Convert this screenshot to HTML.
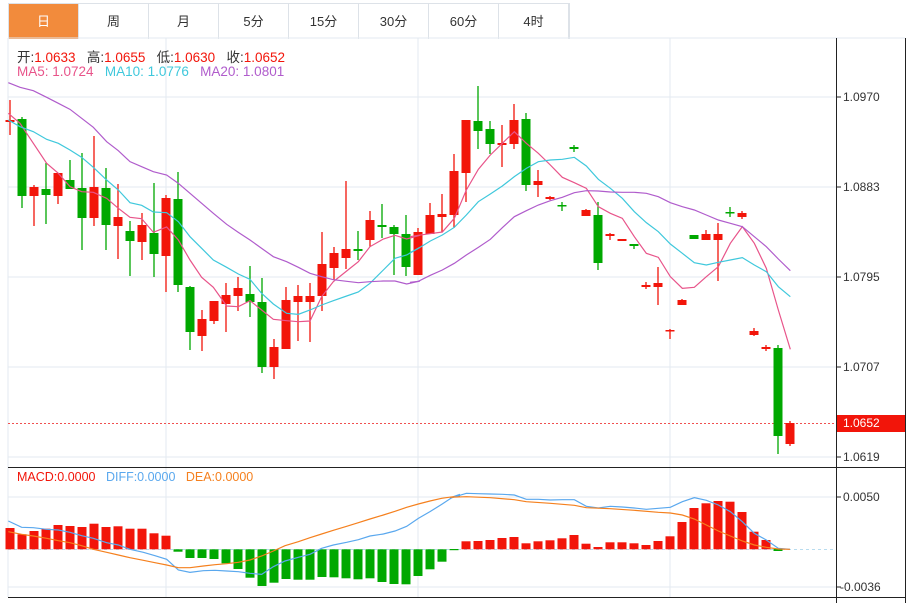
<!DOCTYPE html>
<html><head><meta charset="utf-8"><style>
*{margin:0;padding:0}body{width:912px;height:603px;background:#fff;overflow:hidden;font-family:"Liberation Sans","Noto Sans CJK SC",sans-serif;position:relative}
.tabs{position:absolute;left:8px;top:3px;height:35px;display:flex;border:1px solid #dde2e8;border-bottom:none}
.tab{width:69px;height:35px;line-height:35px;text-align:center;font-size:13px;color:#333;border-right:1px solid #dde2e8}
.tab.on{background:#f28b3c;color:#fff}
.lg{position:absolute;font-size:13.5px;white-space:pre}
.ax{position:absolute;left:843px;font-size:12px;color:#333}
</style></head><body>
<div class="tabs"><div class="tab on">日</div><div class="tab">周</div><div class="tab">月</div><div class="tab">5分</div><div class="tab">15分</div><div class="tab">30分</div><div class="tab">60分</div><div class="tab">4时</div></div>
<svg width="912" height="603" style="position:absolute;left:0;top:0">
<g stroke="#e3eaf1" stroke-width="1">
<line x1="8" y1="38" x2="905" y2="38"/>
<line x1="8" y1="97" x2="836" y2="97"/><line x1="8" y1="187" x2="836" y2="187"/><line x1="8" y1="277" x2="836" y2="277"/><line x1="8" y1="367" x2="836" y2="367"/><line x1="8" y1="457" x2="836" y2="457"/>
<line x1="8" y1="497" x2="836" y2="497"/><line x1="8" y1="587" x2="836" y2="587"/>
<line x1="166" y1="38" x2="166" y2="597"/><line x1="418" y1="38" x2="418" y2="597"/><line x1="670" y1="38" x2="670" y2="597"/>
<line x1="8" y1="38" x2="8" y2="597"/>
</g>
<g stroke="#222" stroke-width="1">
<line x1="8" y1="467.5" x2="905" y2="467.5"/><line x1="8" y1="597.5" x2="905" y2="597.5"/>
<line x1="836.5" y1="38" x2="836.5" y2="603"/><line x1="905.5" y1="38" x2="905.5" y2="603"/>
<line x1="836" y1="97" x2="841" y2="97"/><line x1="836" y1="187" x2="841" y2="187"/><line x1="836" y1="277" x2="841" y2="277"/><line x1="836" y1="367" x2="841" y2="367"/><line x1="836" y1="457" x2="841" y2="457"/><line x1="836" y1="497" x2="841" y2="497"/><line x1="836" y1="587" x2="841" y2="587"/>
</g>
<line x1="8" y1="423.5" x2="836" y2="423.5" stroke="#f05050" stroke-dasharray="2,2"/>
<line x1="8" y1="549.5" x2="836" y2="549.5" stroke="#b8dcef" stroke-dasharray="3,3"/>
<path stroke="#f2150a" stroke-width="1.3" fill="none" d="M10 100V135M34 185V226M58 173V204M94 136V226M118 184V259M142 213V260M166 195V292M202 310V351M214 301V324M226 283V332M238 277V311M274 339V379M286 287V349M298 285V341M310 283V342M322 232V311M334 247V280M346 181V269M370 211V247M418 228V275M430 203V234M442 194V232M454 154V228M466 120V202M502 125V167M514 104V149M538 170V197M550 196V200M586 209V216M610 233V240M622 239V241M646 282V289M658 267V305M670 329V339M682 299V305M706 230V240M718 223V281M742 211V219M754 328V336M766 345V351M790 421V446"/>
<g fill="#f2150a">
<rect x="5.5" y="120" width="9" height="2"/><rect x="29.5" y="187" width="9" height="9"/><rect x="53.5" y="173" width="9" height="23"/><rect x="89.5" y="187" width="9" height="31"/><rect x="113.5" y="217" width="9" height="9"/><rect x="137.5" y="225" width="9" height="17"/><rect x="161.5" y="198" width="9" height="58"/><rect x="197.5" y="319" width="9" height="17"/><rect x="209.5" y="301" width="9" height="20"/><rect x="221.5" y="295" width="9" height="9"/><rect x="233.5" y="288" width="9" height="8"/><rect x="269.5" y="347" width="9" height="20"/><rect x="281.5" y="300" width="9" height="49"/><rect x="293.5" y="296" width="9" height="6"/><rect x="305.5" y="296" width="9" height="6"/><rect x="317.5" y="264" width="9" height="32"/><rect x="329.5" y="253" width="9" height="15"/><rect x="341.5" y="249" width="9" height="9"/><rect x="365.5" y="220" width="9" height="20"/><rect x="413.5" y="232" width="9" height="43"/><rect x="425.5" y="215" width="9" height="19"/><rect x="437.5" y="214" width="9" height="3"/><rect x="449.5" y="171" width="9" height="44"/><rect x="461.5" y="120" width="9" height="53"/><rect x="497.5" y="143" width="9" height="2"/><rect x="509.5" y="120" width="9" height="24"/><rect x="533.5" y="181" width="9" height="4"/><rect x="545.5" y="197" width="9" height="2"/><rect x="581.5" y="210" width="9" height="6"/><rect x="605.5" y="234" width="9" height="2"/><rect x="617.5" y="239" width="9" height="2"/><rect x="641.5" y="285" width="9" height="2"/><rect x="653.5" y="283" width="9" height="4"/><rect x="665.5" y="330" width="9" height="1.5"/><rect x="677.5" y="300" width="9" height="5"/><rect x="701.5" y="234" width="9" height="6"/><rect x="713.5" y="234" width="9" height="6"/><rect x="737.5" y="213" width="9" height="4"/><rect x="749.5" y="331" width="9" height="4"/><rect x="761.5" y="347" width="9" height="2"/><rect x="785.5" y="423" width="9" height="21"/>
</g>
<path stroke="#00a800" stroke-width="1.3" fill="none" d="M22 117V208M46 163V224M70 160V189M82 153V250M106 168V250M130 221V276M154 183V277M178 172V292M190 286V350M250 266V317M262 278V373M358 231V260M382 204V238M394 225V275M406 215V276M478 86V149M490 121V154M526 113V191M562 202V211M574 145V152M598 202V270M634 244V249M694 235V239M730 207V217M778 345V454"/>
<g fill="#00a800">
<rect x="17.5" y="119" width="9" height="77"/><rect x="41.5" y="189" width="9" height="6"/><rect x="65.5" y="180" width="9" height="9"/><rect x="77.5" y="188" width="9" height="30"/><rect x="101.5" y="188" width="9" height="37"/><rect x="125.5" y="231" width="9" height="10"/><rect x="149.5" y="233" width="9" height="21"/><rect x="173.5" y="199" width="9" height="86"/><rect x="185.5" y="287" width="9" height="45"/><rect x="245.5" y="294" width="9" height="8"/><rect x="257.5" y="302" width="9" height="65"/><rect x="353.5" y="249" width="9" height="2"/><rect x="377.5" y="225" width="9" height="2"/><rect x="389.5" y="227" width="9" height="7"/><rect x="401.5" y="234" width="9" height="33"/><rect x="473.5" y="121" width="9" height="10"/><rect x="485.5" y="129" width="9" height="15"/><rect x="521.5" y="119" width="9" height="66"/><rect x="557.5" y="205" width="9" height="1.5"/><rect x="569.5" y="147" width="9" height="2"/><rect x="593.5" y="215" width="9" height="48"/><rect x="629.5" y="244" width="9" height="2"/><rect x="689.5" y="235" width="9" height="4"/><rect x="725.5" y="212" width="9" height="1.5"/><rect x="773.5" y="348" width="9" height="88"/>
</g>
<g fill="none" stroke-width="1.2">
<g transform="translate(0,80) scale(0.33333)">
<polyline vector-effect="non-scaling-stroke" stroke="#e8548a" points="25,100 60,130 100,190 140,250 175,280 210,320 245,335 280,337 320,355 355,385 390,412 425,416 460,457 500,441 535,480 570,540 605,592 640,622 680,678 715,680 750,662 785,690 820,718 860,722 895,725 930,723 965,650 1000,605 1040,573 1075,545 1110,500 1150,477 1185,466 1220,477 1260,466"/>
<polyline vector-effect="non-scaling-stroke" stroke="#3fc8dc" points="25,120 60,140 100,155 140,178 175,190 210,210 245,232 280,262 320,300 355,330 390,368 425,376 460,396 500,398 535,425 570,470 605,505 640,540 680,562 715,582 750,598 785,640 820,672 860,700 895,703 930,690 965,675 1000,662 1040,648 1075,636 1110,610 1150,570 1185,535 1220,525 1260,502"/>
<polyline vector-effect="non-scaling-stroke" stroke="#b05ccc" points="25,8 60,22 100,32 140,52 175,70 210,88 245,115 280,142 320,185 355,212 390,245 425,260 460,275 500,285 535,310 570,340 605,370 640,400 680,433 715,457 750,480 785,505 820,530 860,545 895,562 930,580 965,590 1000,599 1040,604 1075,608 1110,605 1150,603 1185,603 1220,612 1260,603"/>
</g>
<g transform="translate(410,80) scale(0.33333)">
<polyline vector-effect="non-scaling-stroke" stroke="#e8548a" points="0,470 25,466 60,461 97,456 133,415 169,330 205,268 241,225 277,190 313,155 349,190 385,220 421,255 457,292 493,308 529,325 565,380 601,400 637,415 673,470 709,520 745,532 781,590 817,625 853,622 889,590 925,560 961,490 997,440 1033,490 1069,565 1105,690 1141,808"/>
<polyline vector-effect="non-scaling-stroke" stroke="#3fc8dc" points="0,518 25,505 61,483 97,465 133,442 169,405 205,365 241,342 277,318 313,290 349,265 385,245 421,240 457,238 493,232 529,258 565,298 601,325 637,355 673,395 709,428 745,455 781,492 817,520 853,548 889,555 925,547 961,540 997,533 1033,555 1069,575 1105,620 1141,650"/>
<polyline vector-effect="non-scaling-stroke" stroke="#b05ccc" points="0,607 25,604 61,586 97,570 133,550 169,525 205,502 241,478 277,443 313,410 349,392 385,375 421,362 457,352 493,338 529,332 565,333 601,336 637,337 673,337 709,340 745,350 781,368 817,380 853,390 889,405 925,420 961,430 997,440 1033,470 1069,500 1105,537 1141,572"/>
</g>
</g>
<g fill="#f2150a">
<rect x="5.5" y="528" width="9" height="21.3"/><rect x="17.5" y="534.3" width="9" height="15"/><rect x="29.5" y="531" width="9" height="18.3"/><rect x="41.5" y="528.7" width="9" height="20.6"/><rect x="53.5" y="525" width="9" height="24.3"/><rect x="65.5" y="526" width="9" height="23.3"/><rect x="77.5" y="527" width="9" height="22.3"/><rect x="89.5" y="523.7" width="9" height="25.6"/><rect x="101.5" y="527" width="9" height="22.3"/><rect x="113.5" y="526.3" width="9" height="23"/><rect x="125.5" y="528.7" width="9" height="20.6"/><rect x="137.5" y="528.7" width="9" height="20.6"/><rect x="149.5" y="533.3" width="9" height="16"/><rect x="161.5" y="535.7" width="9" height="13.6"/>
<rect x="461.5" y="541.3" width="9" height="8"/><rect x="473.5" y="541" width="9" height="8.3"/><rect x="485.5" y="540" width="9" height="9.3"/><rect x="497.5" y="538" width="9" height="11.3"/><rect x="509.5" y="537" width="9" height="12.3"/><rect x="521.5" y="543.3" width="9" height="6"/><rect x="533.5" y="541.3" width="9" height="8"/><rect x="545.5" y="540.3" width="9" height="9"/><rect x="557.5" y="538.3" width="9" height="11"/><rect x="569.5" y="535" width="9" height="14.3"/><rect x="581.5" y="543.7" width="9" height="5.6"/><rect x="593.5" y="547" width="9" height="2.3"/><rect x="605.5" y="542.3" width="9" height="7"/><rect x="617.5" y="542.3" width="9" height="7"/><rect x="629.5" y="543.3" width="9" height="6"/><rect x="641.5" y="545" width="9" height="4.3"/><rect x="653.5" y="541" width="9" height="8.3"/><rect x="665.5" y="536.3" width="9" height="13"/><rect x="677.5" y="522" width="9" height="27.3"/><rect x="689.5" y="508" width="9" height="41.3"/><rect x="701.5" y="503.3" width="9" height="46"/><rect x="713.5" y="501" width="9" height="48.3"/><rect x="725.5" y="501.7" width="9" height="47.6"/><rect x="737.5" y="512" width="9" height="37.3"/><rect x="749.5" y="531.7" width="9" height="17.6"/><rect x="761.5" y="540" width="9" height="9.3"/>
</g>
<g fill="#00a800">
<rect x="173.5" y="549.3" width="9" height="2.4"/><rect x="185.5" y="549.3" width="9" height="8.7"/><rect x="197.5" y="549.3" width="9" height="8.7"/><rect x="209.5" y="549.3" width="9" height="9.7"/><rect x="221.5" y="549.3" width="9" height="14"/><rect x="233.5" y="549.3" width="9" height="19.7"/><rect x="245.5" y="549.3" width="9" height="28.4"/><rect x="257.5" y="549.3" width="9" height="36.7"/><rect x="269.5" y="549.3" width="9" height="33.4"/><rect x="281.5" y="549.3" width="9" height="29.7"/><rect x="293.5" y="549.3" width="9" height="30.4"/><rect x="305.5" y="549.3" width="9" height="30.4"/><rect x="317.5" y="549.3" width="9" height="27.7"/><rect x="329.5" y="549.3" width="9" height="28"/><rect x="341.5" y="549.3" width="9" height="29"/><rect x="353.5" y="549.3" width="9" height="30"/><rect x="365.5" y="549.3" width="9" height="29"/><rect x="377.5" y="549.3" width="9" height="32.7"/><rect x="389.5" y="549.3" width="9" height="34.7"/><rect x="401.5" y="549.3" width="9" height="35"/><rect x="413.5" y="549.3" width="9" height="26.7"/><rect x="425.5" y="549.3" width="9" height="20"/><rect x="437.5" y="549.3" width="9" height="12.4"/><rect x="449.5" y="549" width="9" height="1.2"/><rect x="773.5" y="549" width="9" height="2"/>
</g>
<g fill="none" stroke-width="1.2">
<g transform="translate(0,455) scale(0.33333)">
<polyline vector-effect="non-scaling-stroke" stroke="#5aa8ee" points="25,198 65,217 100,218 140,223 175,225 210,232 245,242 280,250 320,263 355,270 390,283 430,292 465,302 500,313 535,345 570,352 610,347 645,346 680,348 715,350 750,355 785,358 820,335 855,318 895,307 930,298 965,280 1000,270 1040,262 1075,254 1110,243 1150,237 1185,228 1220,214 1255,190 1290,170 1325,148 1360,125 1380,118"/>
<polyline vector-effect="non-scaling-stroke" stroke="#f5801e" points="25,230 65,238 100,243 140,250 175,257 210,263 245,272 280,283 320,292 355,300 390,308 430,316 465,323 500,330 535,338 570,338 610,333 645,329 680,326 715,322 750,315 785,303 820,288 855,272 895,260 930,248 965,237 1000,226 1040,214 1075,203 1110,192 1150,180 1185,169 1220,157 1255,147 1290,138 1325,130 1360,125 1380,124"/>
</g>
<g transform="translate(450,455) scale(0.33333)">
<polyline vector-effect="non-scaling-stroke" stroke="#5aa8ee" points="0,130 49,115 85,116 121,117 157,118 193,120 229,133 265,133 301,135 337,134 373,134 409,154 445,159 481,154 517,156 553,159 589,163 625,160 661,157 697,140 733,128 769,136 805,150 841,170 877,200 913,235 949,255 985,280 1020,283"/>
<polyline vector-effect="non-scaling-stroke" stroke="#f5801e" points="0,127 49,125 121,128 193,134 229,140 301,145 373,151 409,158 481,161 553,166 625,172 661,174 697,180 733,192 769,210 805,228 841,243 877,258 913,270 949,277 985,282 1020,283"/>
</g>
</g>
<rect x="837" y="415" width="68" height="17" fill="#f2150a"/>
</svg>
<div class="lg" style="left:17px;top:46px;color:#333">开:<span style="color:#f2150a">1.0633</span>   高:<span style="color:#f2150a">1.0655</span>   低:<span style="color:#f2150a">1.0630</span>   收:<span style="color:#f2150a">1.0652</span></div>
<div class="lg" style="left:17px;top:64px"><span style="color:#e8548a">MA5: 1.0724</span>   <span style="color:#3fc8dc">MA10: 1.0776</span>   <span style="color:#b05ccc">MA20: 1.0801</span></div>
<div class="lg" style="left:17px;top:470px;font-size:12.5px"><span style="color:#f2150a">MACD:0.0000</span>   <span style="color:#5aa8ee">DIFF:0.0000</span>   <span style="color:#f5801e">DEA:0.0000</span></div>
<div class="ax" style="top:90px">1.0970</div>
<div class="ax" style="top:180px">1.0883</div>
<div class="ax" style="top:270px">1.0795</div>
<div class="ax" style="top:360px">1.0707</div>
<div class="ax" style="top:450px">1.0619</div>
<div class="ax" style="top:416px;color:#fff">1.0652</div>
<div class="ax" style="top:490px">0.0050</div>
<div class="ax" style="top:580px;left:840px">-0.0036</div>
</body></html>
